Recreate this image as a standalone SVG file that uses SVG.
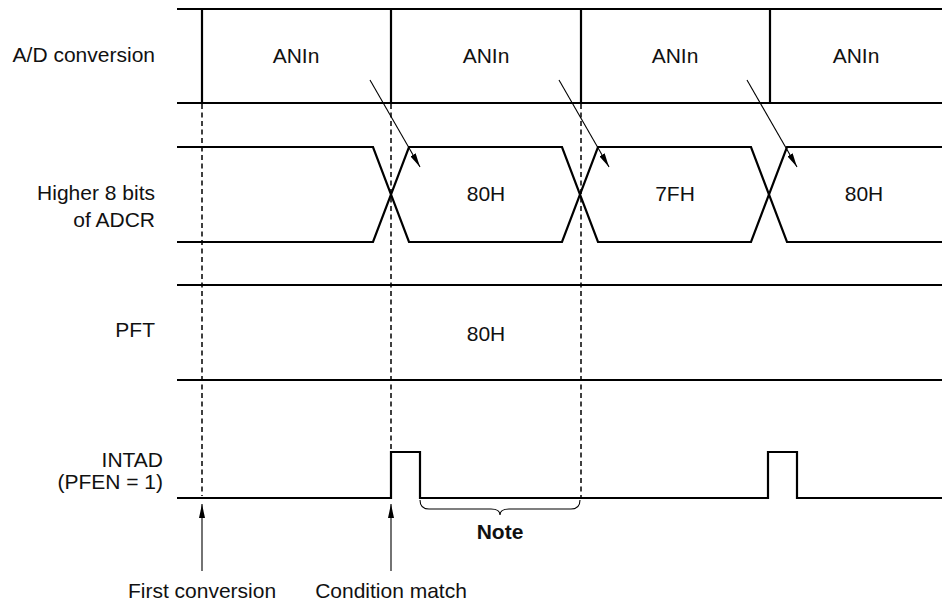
<svg xmlns="http://www.w3.org/2000/svg" width="942" height="602" viewBox="0 0 942 602">
<style>
text{font-family:"Liberation Sans",Arial,sans-serif;font-size:21px;fill:#111}
.r{text-anchor:end}
.m{text-anchor:middle}
.b{font-weight:bold}
.sig{fill:none;stroke:#000;stroke-width:2.2;stroke-linejoin:miter}
.dash{fill:none;stroke:#000;stroke-width:1.5;stroke-dasharray:5 3.5}
.thin{fill:none;stroke:#000;stroke-width:1.1}
</style>
<defs>
<marker id="ah" viewBox="0 0 14 6" refX="14" refY="3" markerWidth="14" markerHeight="6" markerUnits="userSpaceOnUse" orient="auto">
<path d="M0,0 L14,3 L0,6 Z" fill="#000"/>
</marker>
</defs>
<g id="labels">
<text class="r" x="155" y="62">A/D conversion</text>
<text class="r" x="155" y="200">Higher 8 bits</text>
<text class="r" x="155" y="227">of ADCR</text>
<text class="r" x="155" y="337">PFT</text>
<text class="r" x="163" y="467">INTAD</text>
<text class="r" x="163" y="489">(PFEN = 1)</text>
</g>
<g id="ad-conversion">
<path class="sig" d="M177,9 L942,9 M177,103 L942,103 M202,9 L202,103 M391,9 L391,103 M581,9 L581,103 M770,9 L770,103"/>
<text class="m" x="296" y="63">ANIn</text>
<text class="m" x="486" y="63">ANIn</text>
<text class="m" x="675" y="63">ANIn</text>
<text class="m" x="856" y="63">ANIn</text>
</g>
<g id="adcr">
<path class="sig" d="M177,147 L373,147 L409,242 L562,242 L598,147 L751,147 L787,242 L942,242"/>
<path class="sig" d="M177,242 L373,242 L409,147 L562,147 L598,242 L751,242 L787,147 L942,147"/>
<text class="m" x="486" y="201">80H</text>
<text class="m" x="675" y="201">7FH</text>
<text class="m" x="864" y="201">80H</text>
</g>
<g id="pft">
<path class="sig" d="M177,285 L942,285 M177,380 L942,380"/>
<text class="m" x="486" y="341">80H</text>
</g>
<g id="intad">
<path class="sig" d="M177,498 L391,498 L391,452 L420,452 L420,498 L768,498 L768,452 L797,452 L797,498 L942,498"/>
</g>
<g id="connectors">
<path class="dash" d="M202,104 L202,496 M391,104 L391,452 M581,104 L581,497"/>
<path class="thin" marker-end="url(#ah)" d="M370,80 L420,167"/>
<path class="thin" marker-end="url(#ah)" d="M559,80 L609,167"/>
<path class="thin" marker-end="url(#ah)" d="M747,80 L797,167"/>
<path class="thin" marker-end="url(#ah)" d="M202,571 L202,504"/>
<path class="thin" marker-end="url(#ah)" d="M391,571 L391,504"/>
<path class="thin" d="M420,500 Q420,509 429,509 L491,509 Q500,509 500,515 Q500,509 509,509 L571,509 Q580,509 580,500"/>
</g>
<g id="annotations">
<text class="m b" x="500" y="539">Note</text>
<text class="m" x="202" y="598">First conversion</text>
<text class="m" x="391" y="598">Condition match</text>
</g>
</svg>
